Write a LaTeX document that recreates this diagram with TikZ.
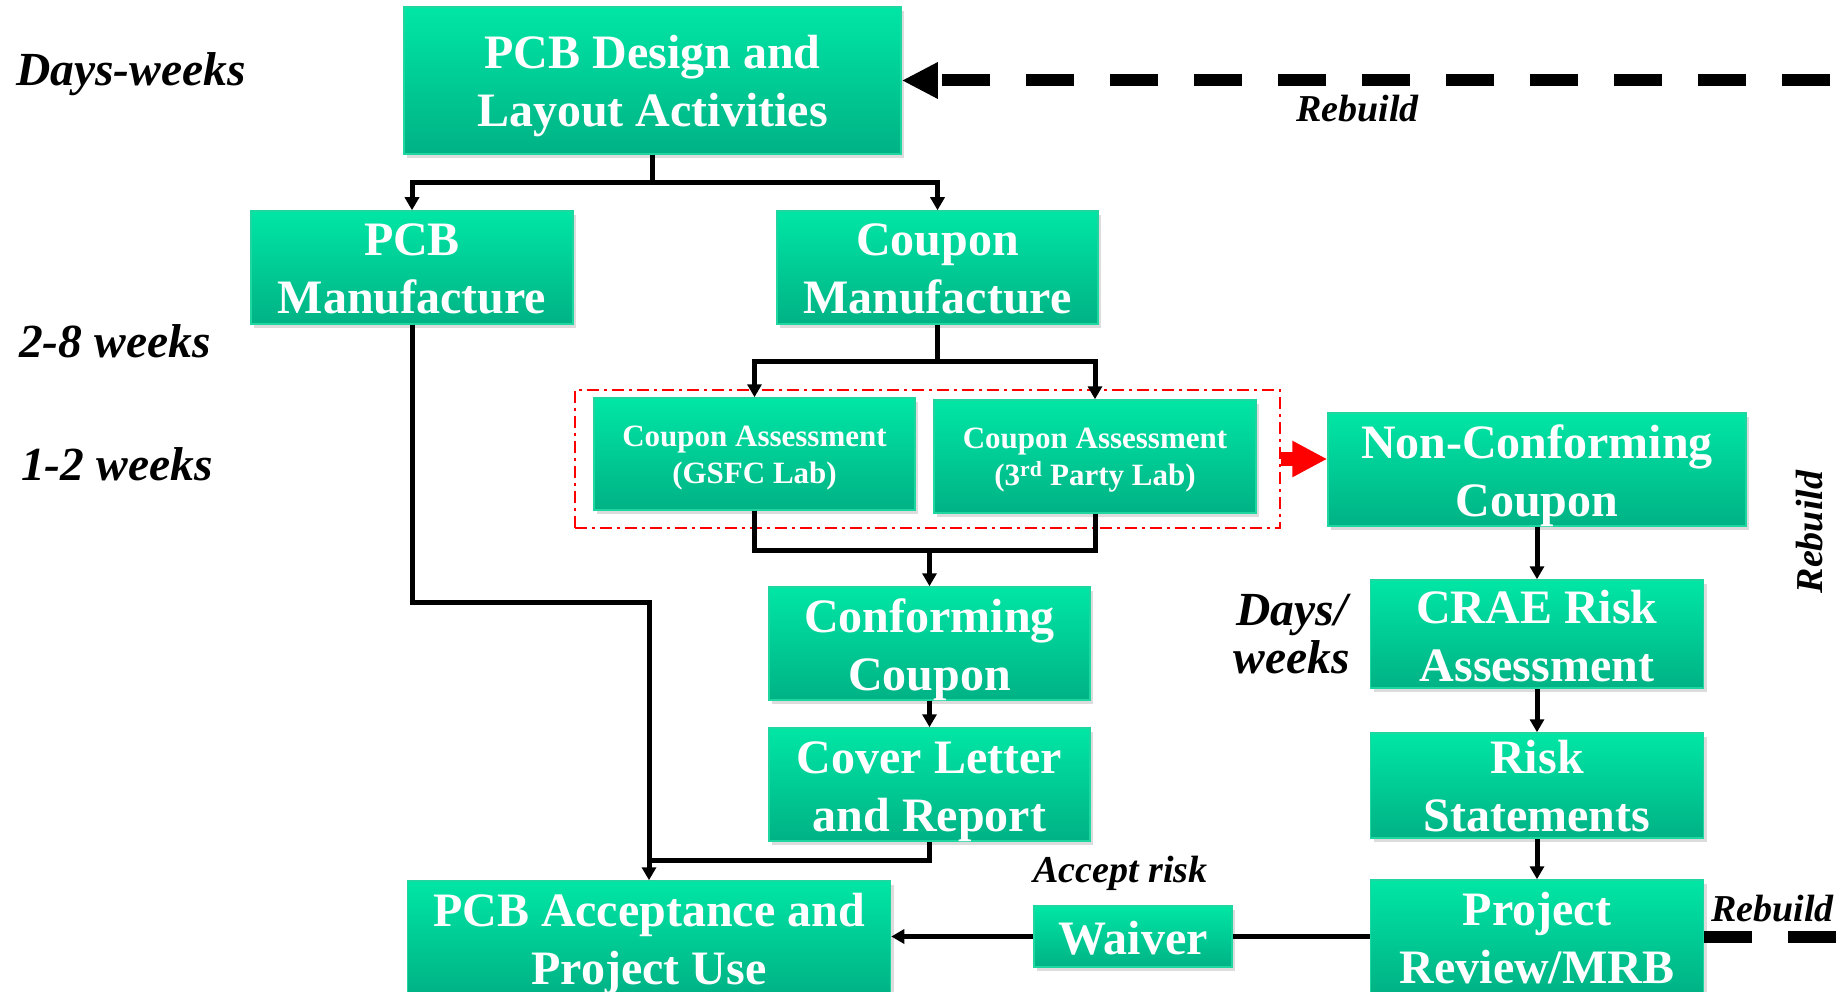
\documentclass[tikz,border=0pt]{standalone}
\usepackage{fontspec}
\setmainfont{Liberation Serif}
\usetikzlibrary{arrows.meta,shadows}
\definecolor{gtop}{RGB}{0,230,165}
\definecolor{gbot}{RGB}{0,178,133}
\definecolor{gedge}{RGB}{30,214,160}
\newcommand{\myhi}[1]{\rule{0pt}{#1pt}}
\newcommand{\mylo}[1]{\rule[-#1pt]{0pt}{#1pt}}
% name, cx, cy, w, h, dy, text style, strut, text
\newcommand{\gbox}[9]{%
  \node[gbox, minimum width=#4pt, minimum height=#5pt] (#1) at (#2,#3) {};
  \node[#7] (#1-t) at (#2,#3+#6) {\myhi{#8}#9\mylo{#8}};}
\begin{document}
\begin{tikzpicture}[x=1pt,y=-1pt,
  gbox/.style={rectangle, inner sep=0pt, top color=gtop, bottom color=gbot,
    draw=gedge, line width=1.5pt,
    drop shadow={shadow xshift=3pt,shadow yshift=-4pt,opacity=0.28}},
  gtext/.style={text=white, inner sep=0pt, align=center,
    font=\bfseries\fontsize{48}{58}\selectfont},
  gsmall/.style={text=white, inner sep=0pt, align=center,
    font=\bfseries\fontsize{31}{37}\selectfont},
  lab/.style={inner sep=0pt, font=\bfseries\itshape\fontsize{47.5}{48}\selectfont},
  labs/.style={inner sep=0pt, font=\bfseries\itshape\fontsize{38}{40}\selectfont},
  conn/.style={line width=5pt},
  arr/.style={line width=5pt,-{Triangle[length=13pt,width=14pt]}},
  rebuildline/.style={line width=12pt, dash pattern=on 48pt off 36pt,
    -{Triangle[length=36pt,width=34pt]}},
  grpbox/.style={draw=red, line width=2pt,
    dash pattern=on 12pt off 5pt on 3pt off 5pt, inner sep=0pt},
  redarr/.style={draw=red, line width=14pt,
    -{Triangle[length=35pt,width=34pt]}}
]
\clip (0,0) rectangle (1837,992);
\useasboundingbox (0,0) rectangle (1837,992);

% group box (dash-dot)
\node[grpbox, minimum width=705.5pt, minimum height=138pt] (grp) at (927.25,459) {};

% boxes
\gbox{design}{652.5}{80.5}{497}{147}{17.5}{gtext}{36}{PCB Design and\\Layout Activities}
\gbox{pcbm}{412}{267.5}{322}{113}{17.5}{gtext}{36}{PCB\\Manufacture}
\gbox{coupm}{937.5}{267.5}{321}{113}{17.5}{gtext}{36}{Coupon\\Manufacture}
\gbox{gsfc}{754.5}{454}{321}{112}{10.5}{gsmall}{24}{Coupon Assessment\\(GSFC Lab)}
\gbox{third}{1095}{456.5}{322}{113}{10.5}{gsmall}{24}{Coupon Assessment\\(3\textsuperscript{rd} Party Lab)}
\gbox{nc}{1537}{469.5}{418}{113}{17.5}{gtext}{36}{Non-Conforming\\Coupon}
\gbox{conf}{929.5}{643.5}{321}{113}{17.5}{gtext}{36}{Conforming\\Coupon}
\gbox{cover}{929.5}{784.5}{321}{113}{17.5}{gtext}{36}{Cover Letter\\and Report}
\gbox{acc}{649}{937.5}{483}{113}{17.5}{gtext}{36}{PCB Acceptance and\\Project Use}
\gbox{waiver}{1133}{936.5}{198}{61}{17.5}{gtext}{36}{Waiver}
\gbox{crae}{1537}{634}{333}{108}{18}{gtext}{36}{CRAE Risk\\Assessment}
\gbox{risk}{1537}{785.5}{333}{105}{17}{gtext}{36}{Risk\\Statements}
\gbox{pr}{1537}{936.5}{333}{113}{17.5}{gtext}{36}{Project\\Review/MRB}

% junctions
\coordinate (j1) at (652.5,183);
\coordinate (j2) at (937.5,361);
\coordinate (j3) at (929.5,550);
\coordinate (k1) at (649,602);
\coordinate (k2) at (649,860);
\coordinate (c1) at (1843,936.5);
\coordinate (c2) at (1843,80.5);

% connectors
\draw[conn] (design.south) -- (j1);
\draw[arr] (j1) -| (pcbm.north);
\draw[arr] (j1) -| (coupm.north);
\draw[conn] (coupm.south) -- (j2);
\draw[arr] (j2) -| (gsfc.north);
\draw[arr] (j2) -| (third.north);
\draw[conn] (gsfc.south) |- (j3) -| (third.south);
\draw[arr] (j3) -- (conf.north);
\draw[arr] (conf.south) -- (cover.north);
\draw[arr] (pcbm.south) |- (k1) -- (acc.north);
\draw[conn] (cover.south) |- (k2);
\draw[redarr] (grp.east) -- (grp.east -| nc.west);
\draw[arr] (nc.south) -- (crae.north);
\draw[arr] (crae.south) -- (risk.north);
\draw[arr] (risk.south) -- (pr.north);
\draw[conn] (pr.west) -- (waiver.east);
\draw[arr] (waiver.west) -- (waiver.west -| acc.east);
\draw[rebuildline] (pr.east) -- (c1) -- (c2) -- (design.east);

% labels
\node[lab, anchor=base west] (l1) at (16,86) {Days-weeks};
\node[lab, anchor=base west] (l2) at (19,358) {2-8 weeks};
\node[lab, anchor=base west] (l3) at (21,480) {1-2 weeks};
\node[lab, align=center] (l4) at (1292,649) {\myhi{36}Days/\\weeks\mylo{36}};
\node[labs, anchor=base west] (r1) at (1296,122) {Rebuild};
\node[labs, anchor=base west] (r2) at (1711,921) {Rebuild};
\node[labs, rotate=90] (r3) at (1810,532) {Rebuild};
\node[labs, anchor=base west] (ar) at (1033,882) {Accept risk};
\end{tikzpicture}
\end{document}
